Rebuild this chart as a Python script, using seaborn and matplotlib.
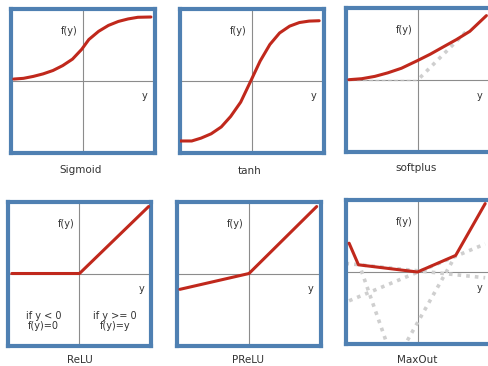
import matplotlib
matplotlib.use("Agg")
import matplotlib.pyplot as plt
import seaborn as sns

W, H = 488, 366

# curve points, x and y in [-1, 1] (axes cross at 0, 0)
sigmoid_x = [-0.955, -0.82, -0.683, -0.547, -0.41, -0.275, -0.139, -0.011,
             0.088, 0.224, 0.36, 0.497, 0.633, 0.769, 0.95]
sigmoid_y = [0.02, 0.03, 0.057, 0.092, 0.139, 0.207, 0.297, 0.433,
             0.569, 0.683, 0.765, 0.82, 0.855, 0.878, 0.882]

tanh_x = [-0.99, -0.83, -0.70, -0.56, -0.42, -0.29, -0.15, -0.007,
          0.12, 0.255, 0.39, 0.53, 0.665, 0.80, 0.94]
tanh_y = [-0.84, -0.84, -0.80, -0.74, -0.645, -0.50, -0.30, 0.0,
          0.27, 0.50, 0.66, 0.755, 0.805, 0.825, 0.83]

softplus_x = [-0.96, -0.78, -0.60, -0.42, -0.23, -0.01, 0.17, 0.35, 0.535, 0.72, 0.95]
softplus_y = [0.0, 0.014, 0.046, 0.095, 0.159, 0.264, 0.354, 0.455, 0.558, 0.672, 0.89]
softplus_ref_flat_x = [-0.95, 0.0]
softplus_ref_flat_y = [0.0, 0.0]
softplus_ref_x = [0.03, 0.70]
softplus_ref_y = [0.03, 0.70]

relu_x = [-0.94, 0.0, 0.96]
relu_y = [0.0, 0.0, 0.93]

prelu_x = [-0.96, 0.0, 0.94]
prelu_y = [-0.22, 0.0, 0.93]

maxout_x = [-0.95, -0.82, 0.0, 0.53, 0.94]
maxout_y = [0.40, 0.10, 0.0, 0.23, 0.95]
# the linear pieces behind maxout (dotted)
maxout_pieces = [
    ([-0.95, 0.94], [-0.40, 0.39]),
    ([-1.0, 0.94], [0.12, -0.08]),
    ([-0.78, -0.44], [0.02, -0.95]),
    ([-0.14, 0.53], [-0.95, 0.23]),
]

names = ["Sigmoid", "tanh", "softplus", "ReLU", "PReLU", "MaxOut"]
# panel centres in pixels and name label heights
centres = [(82.5, 80.5), (251.5, 80.5), (418, 79.7), (79.5, 273.5), (249, 273.5), (417.5, 272)]
label_pos = [(81, 170), (250, 171), (416, 168), (80, 360), (248, 360), (417, 360)]
HALF = 72

RED = "#c0281c"
BLUE = "#4f80b2"
GREY_AX = "#8c8c8c"
DOT = "#cfcfcf"

sns.set_theme(style="white")
plt.rcParams["font.family"] = ["DejaVu Sans"]

fig = plt.figure(figsize=(W / 100, H / 100), dpi=100)
fig.patch.set_facecolor("white")

curves = [
    (sigmoid_x, sigmoid_y),
    (tanh_x, tanh_y),
    (softplus_x, softplus_y),
    (relu_x, relu_y),
    (prelu_x, prelu_y),
    (maxout_x, maxout_y),
]

for i, (cx, cy) in enumerate(centres):
    ax = fig.add_axes([(cx - HALF) / W, 1 - (cy + HALF) / H, 2 * HALF / W, 2 * HALF / H])
    ax.set_xlim(-1, 1)
    ax.set_ylim(-1, 1)
    ax.set_xticks([])
    ax.set_yticks([])
    ax.set_xlabel("")
    ax.set_ylabel("")
    for s in ax.spines.values():
        s.set_visible(True)
        s.set_color(BLUE)
        s.set_linewidth(3)
    ax.axhline(0, color=GREY_AX, lw=0.8, zorder=1)
    ax.axvline(0, color=GREY_AX, lw=0.8, zorder=1)

    if names[i] == "softplus":
        sns.lineplot(x=softplus_ref_flat_x, y=softplus_ref_flat_y, ax=ax, color="#b5b5b5",
                     lw=0.9, linestyle=(0, (3, 2)), zorder=2)
        sns.lineplot(x=softplus_ref_x, y=softplus_ref_y, ax=ax, color=DOT,
                     lw=2.6, linestyle=(0, (1, 1.4)), zorder=2)
    if names[i] == "MaxOut":
        for px, py in maxout_pieces:
            sns.lineplot(x=px, y=py, ax=ax, color=DOT, lw=2.6,
                         linestyle=(0, (1, 1.4)), sort=False, zorder=2)

    xs, ys = curves[i]
    sns.lineplot(x=xs, y=ys, ax=ax, color=RED, lw=2.2, sort=False, zorder=3)

    ax.text(-0.07, 0.69, "f(y)", ha="right", va="center", fontsize=7, color="#333333")
    ax.text(0.86, -0.22, "y", ha="center", va="center", fontsize=7, color="#333333")

    if names[i] == "ReLU":
        ax.text(-0.50, -0.66, "if y < 0\nf(y)=0", ha="center", va="center",
                fontsize=7, color="#333333", linespacing=1.1, multialignment="center")
        ax.text(0.49, -0.66, "if y >= 0\nf(y)=y", ha="center", va="center",
                fontsize=7, color="#333333", linespacing=1.1, multialignment="center")

for name, (lx, ly) in zip(names, label_pos):
    fig.text(lx / W, 1 - ly / H, name, ha="center", va="center", fontsize=7.5, color="#333333")

fig.savefig("out.png", dpi=100)
